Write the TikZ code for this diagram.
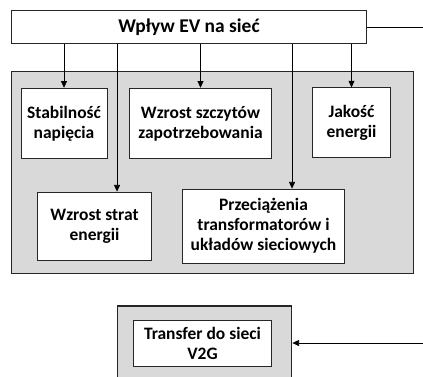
\documentclass[tikz,border=0pt]{standalone}
\usepackage{fontspec}
\setmainfont{Carlito}
\usetikzlibrary{arrows.meta,positioning}

\begin{document}
\begin{tikzpicture}[
  x=0.75pt, y=-0.75pt,
  panel/.style={draw=black!85, fill=black!15, line width=0.8pt, inner sep=0pt},
  topbox/.style={draw=black!85, fill=white, line width=0.6pt, font=\fontsize{14.6}{17}\selectfont\bfseries, align=center, inner sep=0pt},
  effbox/.style={draw=black!85, fill=white, line width=0.6pt, font=\fontsize{13.1}{15}\selectfont\bfseries, align=center, inner sep=0pt},
  arrow/.style={-{Triangle[length=5pt,width=4.5pt]}, line width=0.5pt},
  wire/.style={line width=0.5pt}
]
\useasboundingbox (0,0) rectangle (423,376);

\node[topbox, minimum width=266pt, minimum height=25pt] (ev) at (189,27) {Wpływ EV na sieć};

% panel of grid effects
\node[panel, minimum width=301pt, minimum height=152pt] (grid) at (212.5,172.5) {};
\node[effbox, minimum width=64.5pt, minimum height=53pt] (stab) at (64,123.5) {Stabilność\\napięcia};
\node[effbox, minimum width=107pt, minimum height=53pt] (peak) at (200.5,123.5) {Wzrost szczytów\\zapotrzebowania};
\node[effbox, minimum width=59pt, minimum height=52pt] (qual) at (351.5,122.5) {Jakość\\energii};
\node[effbox, minimum width=86pt, minimum height=51pt] (loss) at (94.5,226) {Wzrost strat\\energii};
\node[effbox, minimum width=121pt, minimum height=55.5pt] (over) at (263.5,226) {Przeciążenia\\transformatorów i\\układów sieciowych};

% V2G panel
\node[panel, minimum width=131pt, minimum height=55.5pt] (v2gpanel) at (204.5,343) {};
\node[effbox, minimum width=104pt, minimum height=34.5pt] (v2g) at (202.5,343) {Transfer do sieci\\V2G};

\coordinate (outA) at (423,27);
\coordinate (inB) at (423,343);

\draw[arrow] (ev.south -| stab.north) -- (stab.north);
\draw[arrow] (ev.south -| peak.north) -- (peak.north);
\draw[arrow] (ev.south -| qual.north) -- (qual.north);
\draw[arrow] ([xshift=16.9pt]ev.south -| loss.north) -- ([xshift=16.9pt]loss.north);
\draw[arrow] ([xshift=21.4pt]ev.south -| over.north) -- ([xshift=21.4pt]over.north);

\draw[wire] (ev.east) -- (outA);
\draw[arrow] (inB) -- (v2gpanel.east);
\end{tikzpicture}
\end{document}
